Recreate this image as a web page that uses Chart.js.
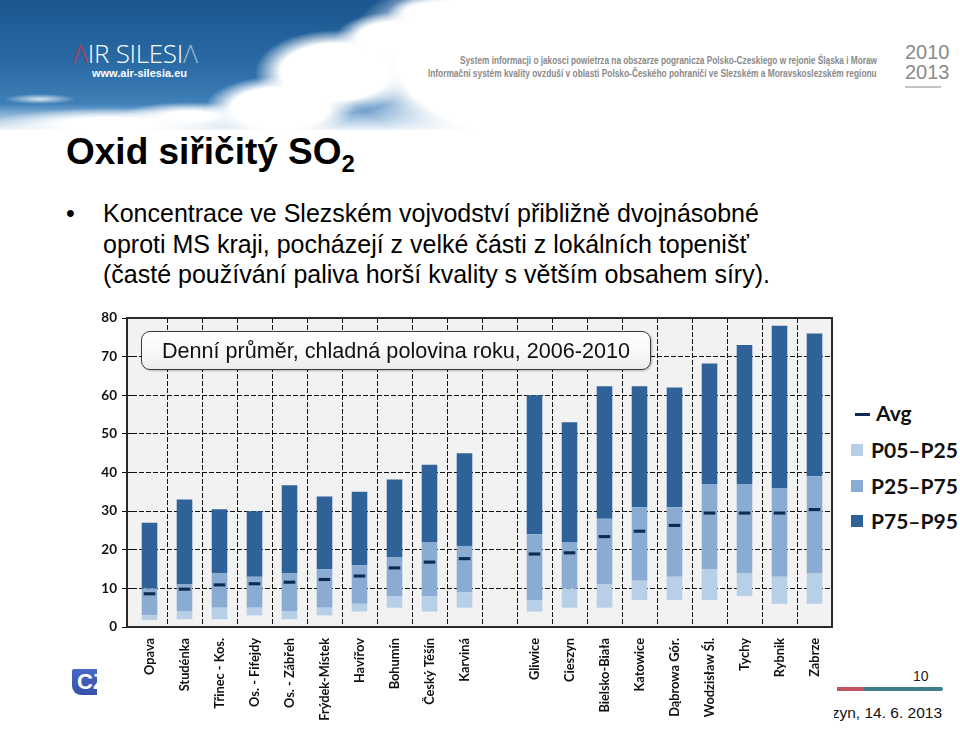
<!DOCTYPE html>
<html>
<head>
<meta charset="utf-8">
<script src="https://cdn.jsdelivr.net/npm/chart.js@4.4.1/dist/chart.umd.min.js"></script>
<style>
  html, body { margin:0; padding:0; background:#fff; }
  body { width:960px; height:735px; position:relative; overflow:hidden; font-family:"Liberation Sans", Arial, sans-serif; }
  .abs { position:absolute; }
  #sky {
    left:0; top:0; width:600px; height:130px;
    background:
      radial-gradient(ellipse 36px 5px at 40px 99px, rgba(255,255,255,0.8), rgba(255,255,255,0) 100%),
      radial-gradient(ellipse 120px 16px at 110px 124px, #fff 40%, rgba(255,255,255,0) 100%),
      radial-gradient(ellipse 70px 14px at 190px 116px, #fff 35%, rgba(255,255,255,0) 100%),
      radial-gradient(ellipse 75px 32px at 280px 108px, #fff 65%, rgba(255,255,255,0) 100%),
      radial-gradient(ellipse 80px 42px at 335px 72px, #fff 68%, rgba(255,255,255,0) 100%),
      radial-gradient(ellipse 60px 26px at 395px 38px, #fff 62%, rgba(255,255,255,0) 100%),
      radial-gradient(ellipse 45px 18px at 432px 14px, #fff 60%, rgba(255,255,255,0) 100%),
      radial-gradient(ellipse 230px 110px at 570px 60px, #fff 75%, rgba(255,255,255,0) 100%),
      linear-gradient(180deg, rgba(255,255,255,0) 0%, rgba(255,255,255,0) 80%, rgba(255,255,255,0.9) 100%),
      linear-gradient(180deg, #1b5791 0%, #2868a3 45%, #4e8ec6 100%);
  }
  #logo { left:73px; top:35px; font-family:"Open Sans","Liberation Sans",sans-serif; font-weight:300; font-size:26px; color:#fff; letter-spacing:-0.3px; }
  #logo .r { color:#b73a44; }
  #logo .b { color:#9bb8cf; }
  #url { left:92px; top:67px; font-family:"Liberation Sans",Arial,sans-serif; font-weight:bold; font-size:11px; color:#fff; }
  .hdr { right:83px; font-family:"Liberation Sans Narrow","Liberation Sans",Arial,sans-serif; font-weight:bold; font-size:11.5px; color:#8a8a8a; white-space:nowrap; transform-origin:right center; }
  .yr { left:905px; font-family:"Liberation Sans Narrow","Liberation Sans",Arial,sans-serif; font-size:20px; color:#8a8a8a; }
  #title { left:66px; top:131px; font-family:"Liberation Sans",Arial,sans-serif; font-weight:bold; font-size:37px; color:#000; white-space:nowrap; }
  #title sub { font-size:24px; vertical-align:-8px; }
  #bullet { left:66px; top:198px; font-family:"Liberation Sans",Arial,sans-serif; font-size:25px; line-height:30.5px; color:#000; }
  #bullet .dot { position:absolute; left:0; top:0; }
  #bullet .txt { position:absolute; left:37px; top:0; white-space:nowrap; }
  #cz { left:72px; top:669px; width:44px; height:26px; background:linear-gradient(180deg,#4966c4,#3651a8); border-radius:2px 2px 2px 9px; color:#fff; font-weight:bold; font-size:22px; line-height:26px; padding-left:5px; box-sizing:border-box; font-family:"Liberation Sans",Arial,sans-serif; }
  #pg { left:913px; top:668px; font-size:14px; color:#222; }
  #lineRed { left:837px; top:687px; width:28px; height:4px; background:#c2555f; }
  #lineTeal { left:864px; top:687px; width:79px; height:4px; background:#3f7d8c; border-radius:0 3px 3px 0; }
  #date { right:18px; top:704px; font-size:15.5px; color:#111; white-space:nowrap; }
  #chartWrap { left:97px; top:306px; width:737px; height:429px; z-index:2; background:#fff; }
  #note { left:141px; top:331px; width:510px; height:39px; border:1.5px solid #3a3a3a; border-radius:9px; box-sizing:border-box;
          background:linear-gradient(180deg,#ffffff 0%,#f7f7f7 60%,#ececec 100%); box-shadow:1px 1px 2px rgba(0,0,0,0.25);
          z-index:3; font-family:"Liberation Sans",Arial,sans-serif; font-size:21.6px; color:#111; text-align:center; line-height:37px; white-space:nowrap; }
  #legend { left:851px; top:398px; z-index:3; font-family:Lato,"Open Sans",sans-serif; font-weight:bold; font-size:21px; color:#111; }
  #legend .row { position:absolute; left:0; white-space:nowrap; height:24px; line-height:24px; }
  #legend .sw { position:absolute; left:0; top:6px; width:12px; height:12px; }
  #legend .dash { position:absolute; left:4px; top:12px; width:15px; height:3px; background:#0e2a4e; }
  #legend .lb { position:absolute; left:20px; top:0; }
</style>
</head>
<body>
<div id="sky" class="abs"></div>
<div id="logo" class="abs"><span class="r">Λ</span>IR SILESI<span class="b">Λ</span></div>
<div id="url" class="abs">www.air-silesia.eu</div>
<div class="abs hdr" id="h1" style="top:54px">System informacji o jakosci powietrza na obszarze pogranicza Polsko-Czeskiego w rejonie Śląska i Moraw</div>
<div class="abs hdr" id="h2" style="top:67px">Informační systém kvality ovzduší v oblasti Polsko-Českého pohraničí ve Slezském a Moravskoslezském regionu</div>
<div class="abs yr" style="top:41px">2010</div>
<div class="abs yr" style="top:61px">2013</div>
<div class="abs" style="left:905px;top:86px;width:36px;height:2px;background:#c4c4c4"></div>

<div id="title" class="abs">Oxid siřičitý SO<sub>2</sub></div>
<div id="bullet" class="abs">
  <span class="dot">•</span>
  <div class="txt">Koncentrace ve Slezském vojvodství přibližně dvojnásobné<br>oproti MS kraji, pocházejí z velké části z lokálních topenišť<br>(časté používání paliva horší kvality s větším obsahem síry).</div>
</div>

<div id="cz" class="abs">CZ</div>
<div id="pg" class="abs">10</div>
<div id="lineRed" class="abs"></div>
<div id="lineTeal" class="abs"></div>
<div id="date" class="abs">Cieszyn, 14. 6. 2013</div>

<div id="chartWrap" class="abs"><canvas id="c" width="737" height="429"></canvas></div>
<div id="note" class="abs">Denní průměr, chladná polovina roku, 2006-2010</div>

<div id="legend" class="abs">
  <div class="row" style="top:3px"><span class="dash"></span><span class="lb" style="left:25px">Avg</span></div>
  <div class="row" style="top:40px"><span class="sw" style="background:#b8cfe8"></span><span class="lb">P05–P25</span></div>
  <div class="row" style="top:76px"><span class="sw" style="background:#8aacd3"></span><span class="lb">P25–P75</span></div>
  <div class="row" style="top:111px"><span class="sw" style="background:#2f6299"></span><span class="lb">P75–P95</span></div>
</div>

<script>
// ---- data ----
const categories = ['Opava','Studénka','Třinec - Kos.','Os. - Fifejdy','Os. - Zábřeh','Frýdek-Místek','Havířov','Bohumín','Český Těšín','Karviná','','Gliwice','Cieszyn','Bielsko-Biała','Katowice','Dąbrowa Gór.','Wodzisław Śl.','Tychy','Rybnik','Zabrze'];
const p05 = [1.8, 2, 2, 3, 2, 3, 4, 5, 4, 5, null, 4, 5, 5, 7, 7, 7, 8, 6, 6];
const p25 = [3, 4, 5, 5, 4, 5, 6, 8, 8, 9, null, 7, 10, 11, 12, 13, 15, 14, 13, 14];
const p75 = [10, 11, 14, 13, 14, 15, 16, 18, 22, 21, null, 24, 22, 28, 31, 31, 37, 37, 36, 39];
const p95 = [27, 33, 30.5, 30, 36.7, 33.8, 35, 38.2, 42, 45, null, 60, 53, 62.3, 62.3, 62, 68.2, 73, 78, 76];
const avg = [8.6, 9.8, 10.9, 11.2, 11.6, 12.3, 13.2, 15.3, 16.8, 17.7, null, 18.9, 19.2, 23.4, 24.8, 26.3, 29.5, 29.5, 29.5, 30.4];
const yTicks = [0, 10, 20, 30, 40, 50, 60, 70, 80];

// fit header lines
function fit(id, w){ const el=document.getElementById(id); const s=w/el.scrollWidth; el.style.transform='scaleX('+s+')'; }
fit('h1', 417); fit('h2', 449);

const band = (lo, hi) => lo.map((v,i) => (v==null || hi[i]==null) ? null : [v, hi[i]]);
const avgMarks = avg.map(v => v==null ? null : [v-0.4, v+0.4]);
const LEFT_GAP = 5;

const frame = {
  id:'frame',
  beforeDraw(c){
    const {ctx, chartArea:a} = c;
    ctx.save();
    ctx.fillStyle = '#ffffff'; ctx.fillRect(0,0,c.width,c.height);
    ctx.fillStyle = '#f2f2f2'; ctx.fillRect(a.left-LEFT_GAP,a.top,a.right-a.left+LEFT_GAP,a.bottom-a.top);
    ctx.restore();
  },
  afterDraw(c){
    const {ctx, chartArea:a} = c;
    ctx.save();
    ctx.strokeStyle = '#2a2a2a'; ctx.lineWidth = 2;
    ctx.strokeRect(a.left-LEFT_GAP, a.top, a.right-a.left+LEFT_GAP, a.bottom-a.top);
    ctx.restore();
  }
};

Chart.defaults.font.family = 'Lato, "Open Sans", sans-serif';
const BP = 0.445;
new Chart(document.getElementById('c'), {
  type:'bar',
  data:{
    labels:categories,
    datasets:[
      {label:'P05–P25', data:band(p05,p25), backgroundColor:'#b8cfe8', grouped:false, barPercentage:BP, categoryPercentage:1, order:3},
      {label:'P25–P75', data:band(p25,p75), backgroundColor:'#8aacd3', grouped:false, barPercentage:BP, categoryPercentage:1, order:3},
      {label:'P75–P95', data:band(p75,p95), backgroundColor:'#2f6299', grouped:false, barPercentage:BP, categoryPercentage:1, order:3},
      {label:'Avg', data:avgMarks, backgroundColor:'#0e2a4e', grouped:false, barPercentage:0.33, categoryPercentage:1, order:1}
    ]
  },
  options:{
    responsive:false, animation:false, devicePixelRatio:1,
    layout:{padding:{top:12, right:2, left:0, bottom:0}},
    plugins:{legend:{display:false}, tooltip:{enabled:false}},
    scales:{
      x:{
        offset:true,
        grid:{display:true, offset:true, lineWidth:1, drawTicks:false,
              color:(ctx) => (ctx.index===0 || ctx.index===categories.length) ? 'rgba(0,0,0,0)' : '#111'},
        border:{display:false, dash:[5,2]},
        ticks:{autoSkip:false, maxRotation:90, minRotation:90, padding:11, color:'#111', font:{size:12.8, weight:'bold'}},
        afterFit(s){ s.height = 108; s.paddingLeft = 0; s.paddingRight = 0; }
      },
      y:{
        min:0, max:80,
        afterBuildTicks(s){ s.ticks = yTicks.map(v => ({value:v})); },
        grid:{color:'#111', lineWidth:1, tickLength:10, drawTicks:true},
        border:{display:false, dash:[5,2]},
        ticks:{padding:5, color:'#111', font:{size:13.5, weight:'bold'}},
        afterFit(s){ s.width = 35; s.paddingTop = 0; s.paddingBottom = 0; }
      }
    }
  },
  plugins:[frame]
});
</script>
</body>
</html>
